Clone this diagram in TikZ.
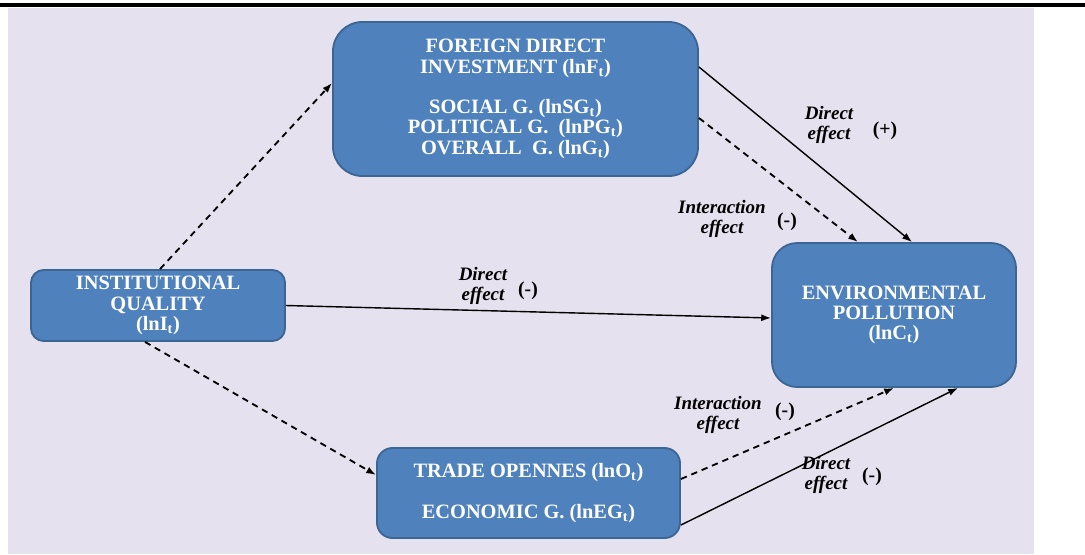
\documentclass[tikz,border=0pt]{standalone}
\usepackage{fontspec}
\setmainfont{Liberation Serif}
\usetikzlibrary{arrows.meta}
\usetikzlibrary{positioning}
\definecolor{lavender}{HTML}{E6E1EE}
\definecolor{boxblue}{HTML}{4F81BD}
\definecolor{boxedge}{HTML}{3B6593}

\begin{document}
\begin{tikzpicture} [x=.025cm, y=-.025cm,
  box/.style={draw=boxedge, line width=1.3pt, fill=boxblue, text=white, align=center, font=\bfseries\fontsize{14.5}{14.4}\selectfont},
  lab/.style={align=center, font=\bfseries\itshape\fontsize{13.5}{14.4}\selectfont, inner sep=0pt},
  sgn/.style={font=\bfseries\fontsize{14}{14.4}\selectfont, inner sep=0pt},
  eff/.style={black, line width=1pt, -{Latex[length=7pt, width=5pt]}},
  inter/.style={eff, line width=1.3pt, dash pattern=on 4.5pt off 3.5pt}]
\useasboundingbox (0,0) rectangle (1085,554);
\fill[lavender] (8,8) rectangle (1034,554);
\draw[black, line width=2.2pt] (0,5)--(1085,5);

\node[box, rounded corners=21pt, minimum width=9.125cm, minimum height=3.85cm] (fdi) at (515.5,99)
  {FOREIGN DIRECT\\ INVESTMENT (lnF\textsubscript{t})\\[14.4pt] SOCIAL G. (lnSG\textsubscript{t})\\ POLITICAL G.\ \ (lnPG\textsubscript{t})\\ OVERALL\ \ G. (lnG\textsubscript{t})};
\node[box, rounded corners=9pt, minimum width=6.35cm, minimum height=1.775cm] (inst) at (158,305.5)
  {INSTITUTIONAL\\ QUALITY\\ (lnI\textsubscript{t})};
\node[box, rounded corners=18pt, minimum width=6.1cm, minimum height=3.6cm] (env) at (894,315)
  {ENVIRONMENTAL\\ POLLUTION\\ (lnC\textsubscript{t})};
\node[box, rounded corners=11pt, minimum width=7.575cm, minimum height=2.25cm] (trade) at (528.5,493)
  {TRADE OPENNES (lnO\textsubscript{t})\\[14.4pt] ECONOMIC G. (lnEG\textsubscript{t})};

\draw[inter] ([xshift=.05cm]inst.north) -- ([yshift=.4cm]fdi.west);
\draw[inter] ([xshift=-.325cm]inst.south) -- ([yshift=.45cm]trade.west);
\draw[eff] (inst.east) -- ([yshift=-.075cm]env.west);
\draw[eff] ([yshift=.8cm]fdi.east) -- ([xshift=.45cm]env.north);
\draw[inter] ([yshift=-.475cm]fdi.east) -- ([xshift=-.9cm]env.north);
\draw[inter] ([yshift=.35cm]trade.east) -- (env.south);
\draw[eff] ([yshift=-.8cm]trade.east) -- ([xshift=1.6cm]env.south);

\node[lab] (fdidir) at (829,125) {Direct\\ effect};
\node[sgn] (fdidirs) at (885,131) {(+)};
\node[lab] (fdiint) at (722,219) {Interaction\\ effect};
\node[sgn] (fdiints) at (787,222) {(-)};
\node[lab] (instdir) at (483,286) {Direct\\ effect};
\node[sgn] (instdirs) at (528,291) {(-)};
\node[lab] (tradeint) at (718,415) {Interaction\\ effect};
\node[sgn] (tradeints) at (785,412) {(-)};
\node[lab] (tradedir) at (826,475) {Direct\\ effect};
\node[sgn] (tradedirs) at (872,477) {(-)};

\end{tikzpicture}
\end{document}
